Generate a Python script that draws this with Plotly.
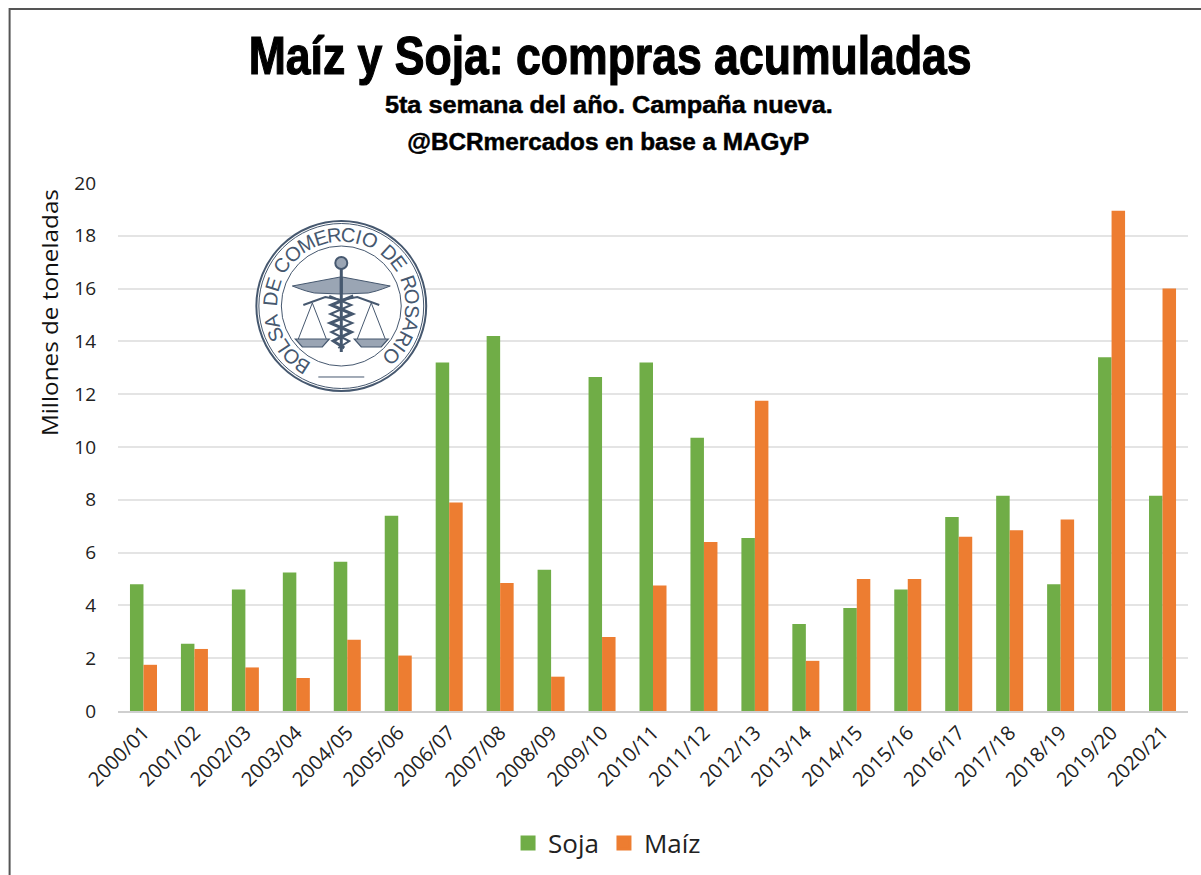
import math
import plotly.graph_objects as go

campanas = ["2000/01","2001/02","2002/03","2003/04","2004/05","2005/06","2006/07","2007/08","2008/09","2009/10","2010/11","2011/12","2012/13","2013/14","2014/15","2015/16","2016/17","2017/18","2018/19","2019/20","2020/21"]
soja = [4.8,2.55,4.6,5.25,5.65,7.4,13.2,14.2,5.35,12.65,13.2,10.35,6.55,3.3,3.9,4.6,7.35,8.15,4.8,13.4,8.15]
maiz = [1.75,2.35,1.65,1.25,2.7,2.1,7.9,4.85,1.3,2.8,4.75,6.4,11.75,1.9,5.0,5.0,6.6,6.85,7.25,18.95,16.0]
titulo = "Maíz y Soja: compras acumuladas"
sub1 = "5ta semana del año. Campaña nueva."
sub2 = "@BCRmercados en base a MAGyP"
eje_y = "Millones de toneladas"
sello = "BOLSA DE COMERCIO DE ROSARIO"

W, H = 1201, 875
L, R, T, B = 117.5, 1188.5, 183, 711
HEAD = "Liberation Sans, sans-serif"
BODY = "Open Sans, Noto Sans, sans-serif"
INK = "#46586f"

def px(x): return (x - L) / (R - L)
def py(y): return (B - y) / (B - T)

shapes, notes = [], []

def path(pts, close=False, color=INK, width=1.2, fill=None):
    d = "M" + " L".join(f"{px(x):.5f},{py(y):.5f}" for x, y in pts) + (" Z" if close else "")
    shapes.append(dict(type="path", xref="paper", yref="paper", path=d, layer="above",
                       line=dict(color=color, width=width), fillcolor=fill or "rgba(0,0,0,0)"))

def circle(cx, cy, r, color=INK, width=1.5, fill=None):
    shapes.append(dict(type="circle", xref="paper", yref="paper", layer="above",
                       x0=px(cx-r), x1=px(cx+r), y0=py(cy+r), y1=py(cy-r),
                       line=dict(color=color, width=width), fillcolor=fill or "rgba(0,0,0,0)"))

def text(x, y, s, size, font=BODY, color="#111", weight=400, angle=0):
    notes.append(dict(xref="paper", yref="paper", x=px(x), y=py(y), text=s,
                      showarrow=False, textangle=angle, xanchor="center", yanchor="middle",
                      font=dict(family=font, size=size, color=color, weight=weight)))

# outer frame
path([(9, H+5), (9, 9), (W+5, 9)], color="#555555", width=2)

# seal
CX, CY = 341, 306
circle(CX, CY, 85, width=2, fill="#ffffff")
circle(CX, CY, 82.5, width=1)
circle(CX, CY, 60, width=1)
ancho = {" ": 0.55, "I": 0.5, "M": 1.3, "O": 1.15, "C": 1.1, "L": 0.9, "E": 0.95, "S": 1.0, "A": 1.05, "R": 1.05, "D": 1.1, "B": 1.0}
pesos = [ancho[c] for c in sello]
total = sum(pesos) - (pesos[0] + pesos[-1]) / 2
a0, a1 = -147, 135
acum = 0.0
for i, ch in enumerate(sello):
    if i > 0:
        acum += (pesos[i-1] + pesos[i]) / 2
    if ch == " ":
        continue
    a = a0 + (a1 - a0) * acum / total
    r = 71.5
    text(CX + r*math.sin(math.radians(a)), CY - r*math.cos(math.radians(a)), ch, 20,
         font=HEAD, color=INK, angle=a)

# wings
path([(340,277),(292,286),(300,289),(306,291),(314,293),(340,294)], close=True, width=1, fill="#9aa5b4")
path([(342,277),(390,286),(382,289),(376,291),(368,293),(342,294)], close=True, width=1, fill="#9aa5b4")
# staff, head, beam
circle(341, 263, 6, width=2, fill="#9aa5b4")
path([(341,268),(341,352)], width=3)
path([(303,305),(325,297),(341,300),(357,297),(379,305)], width=2)
# snakes
path([(353,296),(331,305),(352,314),(330,323),(351,332),(333,341),(344,348)], width=3)
path([(329,296),(351,305),(330,314),(352,323),(331,332),(349,341),(338,348)], width=2)
# scales
for cx in (312, 371):
    path([(cx,303),(cx-14,339)], width=1)
    path([(cx,303),(cx+14,339)], width=1)
    path([(cx-17,339),(cx-10,347),(cx+10,347),(cx+17,339)], close=True, width=1.2, fill="#9aa5b4")
path([(318,377),(364,377)], width=1)

# headings
text(609.5, 55, titulo, 54, font=HEAD, color="#000", weight=700)
text(609, 105, sub1, 23, font=HEAD, color="#000", weight=700)
text(608, 142, sub2, 23, font=HEAD, color="#000", weight=700)
text(49, 313, eje_y, 21, color="#111", angle=-90)

fig = go.Figure()
fig.add_bar(name="Soja", x=campanas, y=soja, marker_color="#70ad47", marker_line_width=0)
fig.add_bar(name="Maíz", x=campanas, y=maiz, marker_color="#ed7d31", marker_line_width=0)
fig.update_layout(
    width=W, height=H, barmode="group", bargap=0.47, bargroupgap=0,
    paper_bgcolor="#ffffff", plot_bgcolor="#ffffff",
    margin=dict(l=L, r=W-R, t=T, b=H-B, autoexpand=False),
    font=dict(family=BODY, size=18, color="#222"),
    shapes=shapes, annotations=notes,
    legend=dict(orientation="h", x=px(607), y=py(843), xanchor="center", yanchor="middle",
                font=dict(size=26, color="#222"), itemwidth=30, traceorder="normal"),
)
fig.update_xaxes(type="category", tickangle=-45, showgrid=False, showline=True, linecolor="#cfcfcf",
                 linewidth=2, ticks="", tickfont=dict(size=20, color="#222"))
fig.update_yaxes(range=[0, 20], tick0=0, dtick=2, gridcolor="#e4e4e4", gridwidth=2, zeroline=False,
                 ticks="", showline=False, ticklabelstandoff=21, tickfont=dict(size=19, color="#222"))

# fit headings to the condensed widths of the original and thicken legend swatches
post = """
document.body.style.margin='0';
var fit={'%s':723,'%s':448,'%s':402,'%s':247};
var heavy={'%s':'1.2px','%s':'0.5px','%s':'0.5px'};
document.querySelectorAll('.annotation-text').forEach(function(t){
  var w=fit[t.textContent];
  if(w){t.setAttribute('textLength',w);t.setAttribute('lengthAdjust','spacingAndGlyphs');}
  var h=heavy[t.textContent];
  if(h){t.style.stroke='#000';t.style.strokeWidth=h;}
});
document.querySelectorAll('.legendpoints path').forEach(function(p){
  p.style.stroke=p.style.fill;p.style.strokeWidth='3px';
});
""" % (titulo, sub1, sub2, eje_y, titulo, sub1, sub2)
fig.write_html("out.html", post_script=post, config={"displayModeBar": False})
